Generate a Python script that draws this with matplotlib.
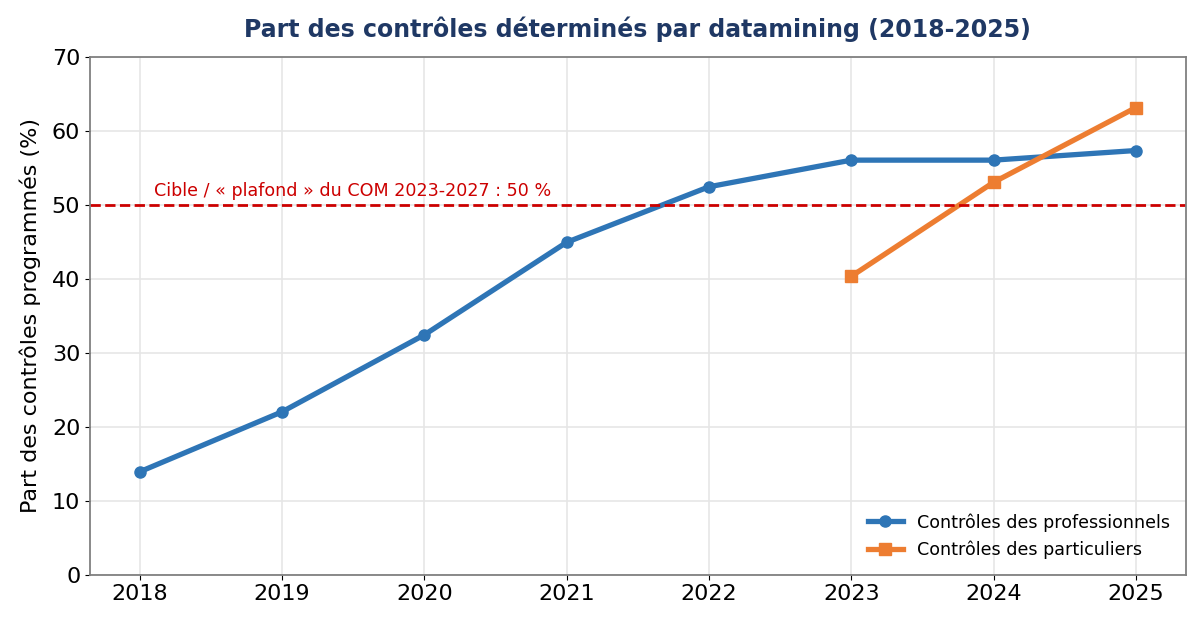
import matplotlib
matplotlib.use('Agg')
import matplotlib.pyplot as plt

# Data
years = [2018, 2019, 2020, 2021, 2022, 2023, 2024, 2025]
pro_values = [13.9, 22.0, 32.4, 44.9, 52.4, 56.0, 56.0, 57.3]
part_years = [2023, 2024, 2025]
part_values = [40.3, 53.0, 63.1]
target = 50

fig, ax = plt.subplots(figsize=(12, 6.28), dpi=100)

ax.plot(years, pro_values, color='#2e75b6', linewidth=3.8, marker='o',
        markersize=8, label='Contrôles des professionnels')
ax.plot(part_years, part_values, color='#ed7d31', linewidth=3.8, marker='s',
        markersize=8, label='Contrôles des particuliers')

ax.axhline(target, color='#cc0000', linestyle='--', linewidth=2)
ax.text(2018.1, target + 1.2, 'Cible / « plafond » du COM 2023-2027 : 50 %',
        color='#cc0000', fontsize=12.6)

ax.set_ylim(0, 70)
ax.set_xticks(years)
ax.tick_params(labelsize=16)
ax.set_ylabel('Part des contrôles programmés (%)', fontsize=16, labelpad=8)
ax.set_title('Part des contrôles déterminés par datamining (2018-2025)',
             fontsize=17, fontweight='bold', color='#1f3864', pad=14)
ax.grid(True, color='#e6e6e6', linewidth=1.2)
ax.set_axisbelow(True)
for s in ax.spines.values():
    s.set_color('#808080')
    s.set_linewidth(1.3)

ax.legend(loc='lower right', frameon=False, fontsize=12.6)

plt.subplots_adjust(left=0.075, right=0.988, top=0.91, bottom=0.085)
plt.savefig('out.png')
